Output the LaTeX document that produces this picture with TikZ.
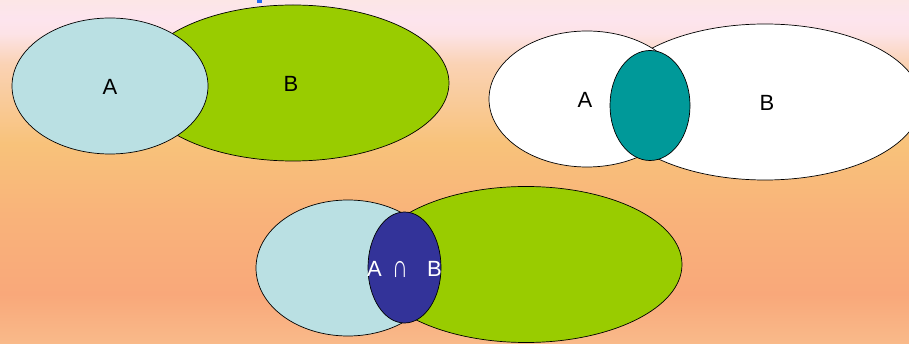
\documentclass[tikz,border=0pt]{standalone}
\usepackage{fontspec}
\setmainfont{Liberation Sans}
\usetikzlibrary{shapes.geometric}

\definecolor{setblue}{HTML}{BAE0E3}
\definecolor{setgreen}{HTML}{99CC00}
\definecolor{setteal}{HTML}{009999}
\definecolor{setnavy}{HTML}{333399}
\definecolor{titleblue}{HTML}{1E6CF5}

% warm backdrop: pink at the top fading through orange to salmon
\pgfdeclareverticalshading{backdrop}{909pt}{%
  rgb(0pt)=(0.976,0.729,0.541);
  rgb(50pt)=(0.976,0.659,0.478);
  rgb(130pt)=(0.976,0.702,0.478);
  rgb(200pt)=(0.973,0.761,0.478);
  rgb(280pt)=(0.980,0.824,0.706);
  rgb(310pt)=(0.992,0.890,0.902);
  rgb(325pt)=(0.992,0.894,0.933);
  rgb(344pt)=(0.988,0.902,0.902)}

\tikzset{
  setshape/.style={ellipse, draw=black, line width=0.7pt, inner sep=0pt},
  bigset/.style={setshape, minimum width=312pt, minimum height=156pt},
  smallset/.style={setshape, minimum width=196pt, minimum height=136pt},
  lensset/.style={setshape, minimum width=80pt, minimum height=110pt},
  setlabel/.style={font=\fontsize{22}{26}\selectfont, inner sep=0pt}
}

\begin{document}
\begin{tikzpicture}[x=1pt, y=-1pt]
  \useasboundingbox (0,0) rectangle (909,344);
  \clip (0,0) rectangle (909,344);
  \node[anchor=south west, inner sep=0pt, outer sep=0pt] (bg) at (0,344)
    {\pgfuseshading{backdrop}};

  % fragment of a heading cut off at the top edge
  \fill[titleblue] (257,0) rectangle (262,3.5);

  % A and B, union
  \node[bigset, fill=setgreen] (B1) at (293,83) {};
  \node[smallset, fill=setblue] (A1) at (110,86) {};
  \node[setlabel] (A1lab) at (110,87) {A};
  \node[setlabel] (B1lab) at (291,84) {B};

  % A and B, intersection highlighted
  \node[bigset, fill=white] (B2) at (765,102) {};
  \node[smallset, fill=white] (A2) at (587,99) {};
  \node[lensset, fill=setteal] (I2) at (650,105.5) {};
  \node[setlabel] (A2lab) at (585,100) {A};
  \node[setlabel] (B2lab) at (767,103) {B};

  % A and B with the shared part labelled
  \node[bigset, fill=setgreen] (B3) at (526,264.5) {};
  \node[smallset, fill=setblue, minimum width=184pt] (A3) at (348,268) {};
  \node[lensset, fill=setnavy, minimum width=73pt, minimum height=111pt] (I3) at (404.5,267.5) {};
  \node[setlabel, text=white] (I3a) at (374.5,269) {A};
  \node[setlabel, text=white] (I3cap) at (400,269) {\scalebox{1}[1.45]{∩}};
  \node[setlabel, text=white] (I3b) at (434.5,269) {B};
\end{tikzpicture}
\end{document}
